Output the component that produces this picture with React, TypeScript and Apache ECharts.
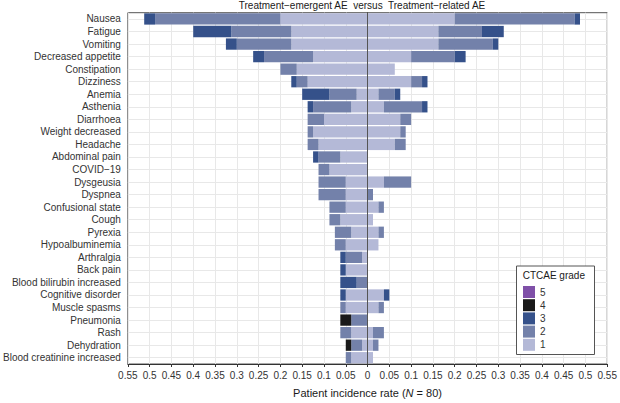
import React, { useEffect, useRef } from "react";
import * as echarts from "echarts";

const N = 80;

const categories = [
  "Nausea",
  "Fatigue",
  "Vomiting",
  "Decreased appetite",
  "Constipation",
  "Dizziness",
  "Anemia",
  "Asthenia",
  "Diarrhoea",
  "Weight decreased",
  "Headache",
  "Abdominal pain",
  "COVID\u221219",
  "Dysgeusia",
  "Dyspnea",
  "Confusional state",
  "Cough",
  "Pyrexia",
  "Hypoalbuminemia",
  "Arthralgia",
  "Back pain",
  "Blood bilirubin increased",
  "Cognitive disorder",
  "Muscle spasms",
  "Pneumonia",
  "Rash",
  "Dehydration",
  "Blood creatinine increased",
];

// Treatment-emergent AE (left side), patient counts per grade
const teGrade1 = [16, 14, 14, 10, 13, 11, 2, 3, 8, 10, 9, 5, 7, 4, 4, 4, 5, 3, 4, 1, 4, 0, 4, 4, 0, 3, 1, 3];
const teGrade2 = [23, 11, 10, 9, 3, 2, 5, 7, 3, 1, 2, 4, 2, 5, 5, 3, 2, 3, 2, 3, 0, 2, 0, 1, 3, 2, 2, 1];
const teGrade3 = [2, 7, 2, 2, 0, 1, 5, 1, 0, 0, 0, 1, 0, 0, 0, 0, 0, 0, 0, 1, 1, 3, 1, 0, 0, 0, 0, 0];
const teGrade4 = [0, 0, 0, 0, 0, 0, 0, 0, 0, 0, 0, 0, 0, 0, 0, 0, 0, 0, 0, 0, 0, 0, 0, 0, 2, 0, 1, 0];
const teGrade5: number[] = [];

// Treatment-related AE (right side), patient counts per grade
const trGrade1 = [16, 13, 13, 8, 5, 8, 2, 3, 6, 6, 5, 0, 0, 3, 0, 2, 1, 2, 2, 0, 0, 0, 3, 2, 0, 1, 1, 1];
const trGrade2 = [22, 8, 10, 8, 0, 2, 3, 7, 2, 1, 2, 0, 0, 5, 1, 1, 0, 1, 0, 0, 0, 0, 0, 1, 0, 2, 1, 0];
const trGrade3 = [1, 4, 1, 2, 0, 1, 1, 1, 0, 0, 0, 0, 0, 0, 0, 0, 0, 0, 0, 0, 0, 0, 1, 0, 0, 0, 0, 0];
const trGrade4: number[] = [];
const trGrade5: number[] = [];

const gradeNames = ["1", "2", "3", "4", "5"];
const legendOrder = ["5", "4", "3", "2", "1"];
const gradeColors = ["#b4b9d7", "#7381aa", "#35518a", "#1a1a1a", "#7f50a8"];

const FONT = "'Liberation Sans', Arial, Helvetica, sans-serif";

export default function App() {
  const ref = useRef<HTMLDivElement>(null);

  useEffect(() => {
    document.body.style.margin = "0";
    if (!ref.current) return;
    const chart = echarts.init(ref.current, undefined, { renderer: "svg" });

    const te = [teGrade1, teGrade2, teGrade3, teGrade4, teGrade5];
    const tr = [trGrade1, trGrade2, trGrade3, trGrade4, trGrade5];

    const series: any[] = [];
    te.forEach((arr, g) => {
      const s: any = {
        name: gradeNames[g],
        type: "bar",
        stack: "ae",
        barCategoryGap: "10%",
        data: arr.map((c) => -c / N),
        itemStyle: { color: gradeColors[g] },
      };
      if (g === 0) {
        // zero reference line, drawn above the bars
        s.markLine = {
          silent: true,
          symbol: "none",
          z: 5,
          label: { show: false },
          lineStyle: { color: "#555", width: 1, type: "solid" },
          data: [{ xAxis: 0 }],
        };
      }
      if (g === 1) {
        // horizontal grid lines at category centres, below the bars
        s.markLine = {
          silent: true,
          symbol: "none",
          z: 1,
          label: { show: false },
          lineStyle: { color: "#e8e8e8", width: 1, type: "solid" },
          data: categories.map((c) => ({ yAxis: c })),
        };
      }
      series.push(s);
    });
    tr.forEach((arr, g) => {
      series.push({
        name: gradeNames[g],
        type: "bar",
        stack: "ae",
        barCategoryGap: "10%",
        data: arr.map((c) => c / N),
        itemStyle: { color: gradeColors[g] },
      });
    });

    chart.setOption({
      animation: false,
      textStyle: { fontFamily: FONT },
      grid: {
        left: 126,
        right: 10,
        top: 12.7,
        bottom: 35.3,
        show: true,
        borderColor: "#555",
        borderWidth: 1,
        backgroundColor: "transparent",
      },
      xAxis: {
        type: "value",
        min: -0.55,
        max: 0.55,
        interval: 0.05,
        name: "Patient incidence rate ({i|N} = 80)",
        nameLocation: "middle",
        nameGap: 23,
        nameTextStyle: {
          fontSize: 11,
          color: "#1a1a1a",
          fontFamily: FONT,
          rich: { i: { fontStyle: "italic", fontSize: 11, color: "#1a1a1a", fontFamily: FONT } },
        },
        axisLine: { show: true, lineStyle: { color: "#333" } },
        axisTick: { show: true, length: 3, lineStyle: { color: "#333" } },
        axisLabel: {
          fontSize: 10,
          color: "#333",
          margin: 6,
          formatter: (v: number) => String(Number(Math.abs(v).toFixed(2))),
        },
        splitLine: { show: true, lineStyle: { color: "#e8e8e8", width: 1 } },
      },
      yAxis: {
        type: "category",
        data: categories,
        inverse: true,
        axisLine: { show: true, lineStyle: { color: "#333" } },
        axisTick: { show: true, length: 4, interval: 0, alignWithLabel: true, lineStyle: { color: "#333" } },
        axisLabel: { fontSize: 10, color: "#333", margin: 7, interval: 0 },
        splitLine: { show: false },
      },
      legend: {
        data: legendOrder,
        orient: "vertical",
        left: 523,
        top: 286,
        itemWidth: 12,
        itemHeight: 12,
        itemGap: 1.2,
        padding: 0,
        icon: "rect",
        selectedMode: false,
        z: 20,
        textStyle: { fontSize: 10, color: "#333", fontFamily: FONT },
      },
      graphic: [
        {
          type: "rect",
          z: 15,
          shape: { x: 516.5, y: 266, width: 78, height: 88.5 },
          style: { fill: "#fff", stroke: "#555", lineWidth: 1 },
        },
        {
          type: "text",
          z: 16,
          x: 522.7,
          y: 275,
          style: {
            text: "CTCAE grade",
            fontSize: 10,
            fontFamily: FONT,
            fill: "#1a1a1a",
            textAlign: "left",
            textVerticalAlign: "middle",
          },
        },
        {
          type: "text",
          z: 16,
          x: 362,
          y: 5,
          style: {
            text: "Treatment\u2212emergent AE  versus  Treatment\u2212related AE",
            fontSize: 10,
            fontFamily: FONT,
            fill: "#1a1a1a",
            textAlign: "center",
            textVerticalAlign: "middle",
          },
        },
      ],
      series,
    });

    return () => chart.dispose();
  }, []);

  return (
    <div
      ref={ref}
      style={{ position: "absolute", left: 0, top: 0, width: 620, height: 403 }}
    />
  );
}
